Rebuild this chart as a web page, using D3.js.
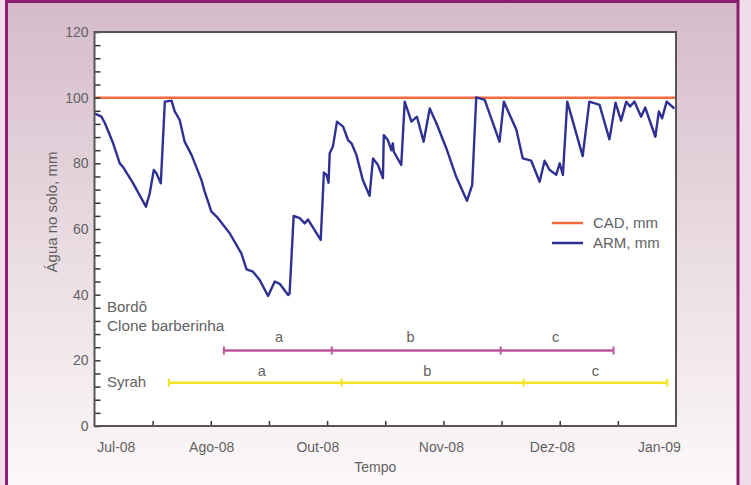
<!DOCTYPE html>
<html><head><meta charset="utf-8">
<script src="https://cdn.jsdelivr.net/npm/d3@7"></script>
<style>
html,body{margin:0;padding:0;background:#f0dde9;}
svg{display:block;font-family:"Liberation Sans",Arial,sans-serif;}
</style></head>
<body><svg id="c" width="751" height="485"></svg>
<script>
// ---- data ----
const dias = [0,2.4,3.6,6.4,8.7,9.9,13.3,17.7,19,20.4,21.3,22.8,24.2,26.5,27.6,29.3,31,33.4,36.8,37.9,40.2,42,46.5,50.5,52.3,54.5,56.8,59.7,62,63.7,66.6,67.1,68.5,70.6,72.3,73.4,77.8,78.9,79.8,80.5,80.9,82,83.4,85.5,87.2,88.4,90.1,92.3,94.6,95.8,97.5,99.2,99.5,100.9,102.1,102.6,102.9,105.5,106.7,109,110.9,113.2,115.3,117.6,121,124.4,128.1,129.9,131.3,134.2,139.3,140.8,145.1,147.3,150.2,153.1,154.8,156.5,158.8,160,161.1,162.6,167.9,170.2,173.7,177.1,179.2,181.1,182.9,184.2,185.7,188,189.4,192.9,194.1,195.2,196.8,199.4];
const arm = [95.2,94.2,92.2,86.1,80,78.8,73.9,66.8,70.9,78,77,73.9,98.8,99.1,95.8,93.2,86.6,82.5,74.9,71.4,65.3,63.8,58.7,52.6,47.7,47,44.5,39.6,44,43.3,39.9,40.4,64,63.3,61.7,62.9,56.7,77.2,76.5,74.1,83.1,85.1,92.7,91.2,87.1,86.1,82.5,74.9,70.1,81.5,79.5,75.5,88.6,87.1,84,86.1,83.6,79.5,98.8,92.7,94.2,86.6,96.7,92.2,84.6,75.9,68.6,73.4,100.1,99.3,86.6,98.8,90.2,81.5,80.8,74.4,80.8,78,76.5,80,76.5,98.8,82.2,98.8,97.8,87.3,98.5,93,98.8,97.3,98.8,94.2,97,88.1,95.8,93.7,98.8,96.7];
const cad = 100;
const xTickLabels = ["Jul-08","Ago-08","Out-08","Nov-08","Dez-08","Jan-09"];
const xTickLabelPos = [7.5,40.3,76.8,119.3,157.5,194.3];
const xTickMarks = [20,40,60,80,100,120,140,160,180];
const fases = ["a","b","c"];
const bordoLimites = [44.5,81.6,139.7,178.5];
const bordoRotuloPos = [63.5,108.7,158.6];
const bordoNivel = 23;
const syrahLimites = [25.6,85,147.6,197];
const syrahRotuloPos = [57.5,114.5,172.3];
const syrahNivel = 13.2;
const legendItems = ["CAD, mm","ARM, mm"];

// ---- layout ----
const svg = d3.select("#c");
const L=94.5, R=676, T=32, B=426;
const x = d3.scaleLinear().domain([0,200]).range([L,R]);
const y = d3.scaleLinear().domain([0,120]).range([B,T]);
const txt = "#626262";

const defs = svg.append("defs");
const g = defs.append("linearGradient").attr("id","bg").attr("x1",0).attr("y1",0).attr("x2",0).attr("y2",1);
g.append("stop").attr("offset","0%").attr("stop-color","#d5bbc9");
g.append("stop").attr("offset","45%").attr("stop-color","#e8d9e0");
g.append("stop").attr("offset","100%").attr("stop-color","#fdfafb");

svg.append("rect").attr("width",751).attr("height",485).attr("fill","#f0dde9");
svg.append("rect").attr("x",6.5).attr("y",1.5).attr("width",731.5).attr("height",500)
  .attr("fill","url(#bg)").attr("stroke","#8a1f6e").attr("stroke-width",3);

// plot area
svg.append("rect").attr("x",L).attr("y",T).attr("width",R-L).attr("height",B-T).attr("fill","#fff");

// CAD line
svg.append("line").attr("x1",x(0)).attr("x2",x(200)).attr("y1",y(cad)).attr("y2",y(cad))
  .attr("stroke","#f26a3f").attr("stroke-width",2.5);

// ARM line
const line = d3.line().x((d,i)=>x(dias[i])).y((d,i)=>y(arm[i]));
svg.append("path").datum(arm).attr("d",line).attr("fill","none")
  .attr("stroke","#2e3192").attr("stroke-width",2.4).attr("stroke-linejoin","round");

// axes
const ya = svg.append("g").attr("transform",`translate(${L},0)`)
  .call(d3.axisLeft(y).tickValues(d3.range(0,121,4)).tickSize(-6).tickPadding(6)
    .tickFormat(d=> d%20===0 ? d : ""));
ya.select(".domain").remove();
ya.selectAll("line").attr("stroke","#333").attr("stroke-width",1.5);
ya.selectAll("text").attr("fill",txt).attr("font-size",14).attr("font-family","Liberation Sans, Arial, sans-serif");

const xa = svg.append("g").attr("transform",`translate(0,${B})`)
  .call(d3.axisBottom(x).tickValues(xTickMarks).tickSize(-5).tickFormat(""));
xa.select(".domain").remove();
xa.selectAll("line").attr("stroke","#333").attr("stroke-width",1.5);

svg.append("g").selectAll("text").data(xTickLabels).join("text")
  .attr("x",(d,i)=>x(xTickLabelPos[i])).attr("y",452).attr("text-anchor","middle")
  .attr("fill",txt).attr("font-size",14).text(d=>d);

// frame
svg.append("rect").attr("x",L).attr("y",T).attr("width",R-L).attr("height",B-T)
  .attr("fill","none").attr("stroke","#555").attr("stroke-width",2);

// axis titles
svg.append("text").attr("x",(L+R)/2-10).attr("y",472).attr("text-anchor","middle")
  .attr("fill",txt).attr("font-size",14).text("Tempo");
svg.append("text").attr("transform","translate(57,212) rotate(-90)").attr("text-anchor","middle")
  .attr("fill",txt).attr("font-size",15).text("Água no solo, mm");

// legend
const legColors = ["#f26a3f","#2e3192"];
const lg = svg.append("g");
legendItems.forEach((t,i)=>{
  const yy = 223 + i*20;
  lg.append("line").attr("x1",552).attr("x2",583).attr("y1",yy).attr("y2",yy)
    .attr("stroke",legColors[i]).attr("stroke-width",2.5);
  lg.append("text").attr("x",593).attr("y",yy+5).attr("fill",txt).attr("font-size",15).text(t);
});

// annotations
svg.append("text").attr("x",107).attr("y",312).attr("fill",txt).attr("font-size",15).text("Bordô");
svg.append("text").attr("x",107).attr("y",331).attr("fill",txt).attr("font-size",15.3).text("Clone barberinha");
svg.append("text").attr("x",107).attr("y",387).attr("fill",txt).attr("font-size",15).text("Syrah");

function fasesBar(lim, pos, nivel, color, dy){
  const yy = y(nivel);
  svg.append("line").attr("x1",x(lim[0])).attr("x2",x(lim[lim.length-1])).attr("y1",yy).attr("y2",yy)
    .attr("stroke",color).attr("stroke-width",2.5);
  svg.append("g").selectAll("line").data(lim).join("line")
    .attr("x1",d=>x(d)).attr("x2",d=>x(d)).attr("y1",yy-4).attr("y2",yy+4)
    .attr("stroke",color).attr("stroke-width",2);
  svg.append("g").selectAll("text").data(fases).join("text")
    .attr("x",(d,i)=>x(pos[i])).attr("y",yy+dy).attr("text-anchor","middle")
    .attr("fill",txt).attr("font-size",14.5).text(d=>d);
}
fasesBar(bordoLimites, bordoRotuloPos, bordoNivel, "#b9579a", -8);
fasesBar(syrahLimites, syrahRotuloPos, syrahNivel, "#f3e524", -7);
</script></body></html>
